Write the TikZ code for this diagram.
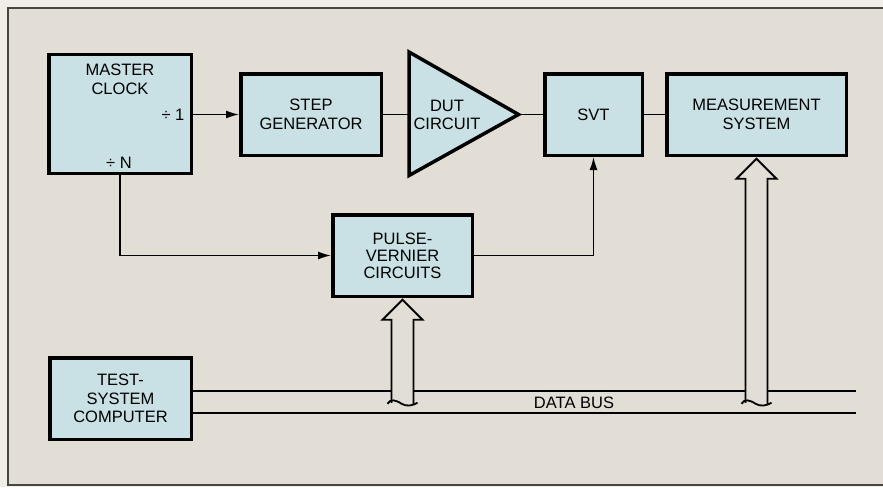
\documentclass[tikz,border=0pt]{standalone}
\usepackage{fontspec}
\setmainfont{Liberation Sans}
\usetikzlibrary{arrows.meta,calc}
\definecolor{outerbg}{RGB}{241,238,231}
\definecolor{innerbg}{RGB}{226,222,213}
\definecolor{boxblue}{RGB}{201,225,228}
\definecolor{framegray}{RGB}{70,70,66}
\tikzset{
  box/.style={draw=black, line width=3.5pt, fill=boxblue, inner sep=0pt, align=center,
    font=\fontsize{16.5}{18.5}\selectfont},
  lbl/.style={inner sep=0pt, align=center, font=\fontsize{16.5}{18.5}\selectfont},
  conn/.style={draw=black, line width=1.5pt},
  arr/.style={-{Latex[length=13pt,width=8pt]}},
  bus/.style={draw=black, line width=1.8pt},
  hollow/.style={draw=black, line width=1.8pt, line join=miter},
}
\begin{document}
\begin{tikzpicture}[x=1pt,y=-1pt]
\useasboundingbox (0,0) rectangle (883,487);
\fill[outerbg] (0,0) rectangle (883,487);
\draw[framegray, fill=innerbg, line width=1.4pt] (8,8) rectangle (900,485);

% boxes
\node[box, minimum width=142.5pt, minimum height=118.5pt] (clock) at (120,114) {};
\node[lbl] (clocklbl) at (120,79.5) {MASTER\\CLOCK};
\node[lbl] (div1) at (173,115) {÷ 1};
\node[lbl] (divN) at (119,163) {÷ N};
\node[box, minimum width=140.5pt, minimum height=81.5pt] (step) at (311,114.5) {STEP\\GENERATOR};
\coordinate (dutin) at (409,114.5);
\coordinate (duttip) at (518.5,114.5);
\draw[line width=3.5pt, fill=boxblue, line join=miter] (409,52) -- (duttip) -- (409,175.5) -- cycle;
\node[lbl] (dutlbl) at (447,115) {DUT\\CIRCUIT};
\node[box, minimum width=97.5pt, minimum height=81.5pt] (svt) at (593.5,114.5) {SVT};
\node[box, minimum width=179.5pt, minimum height=81.5pt] (meas) at (756.5,114.5) {MEASUREMENT\\SYSTEM};
\node[box, minimum width=139.5pt, minimum height=81.5pt,
      font=\fontsize{16.5}{17}\selectfont] (pulse) at (402.5,255.5) {PULSE-\\VERNIER\\CIRCUITS};
\node[box, minimum width=141.5pt, minimum height=81.5pt] (comp) at (120.5,398.5) {TEST-\\SYSTEM\\COMPUTER};

% connectors
\draw[conn, arr] (clock.east |- step.west) -- (step.west);
\draw[conn] (step.east) -- (dutin);
\draw[conn] (duttip) -- (svt.west);
\draw[conn] (svt.east) -- (meas.west);
\draw[conn, arr] (clock.south) |- (pulse.west);
\draw[conn, arr] (pulse.east) -| (svt.south);

% data bus
\coordinate (busA) at (856,391);
\coordinate (busB) at (856,413);
\draw[bus] (comp.east |- busA) -- (busA);
\draw[bus] (comp.east |- busB) -- (busB);
\node[lbl] (buslbl) at (574,403) {DATA BUS};

% hollow arrows
\begin{scope}[shift={($(pulse.south)+(0,1.75)$)}]
  \fill[innerbg] (-11,104) -- (-11,20) -- (-20,20) -- (0,0) -- (20,20) -- (11,20) -- (11,104) -- cycle;
  \draw[hollow] (-11,103) -- (-11,20) -- (-20,20) -- (0,0) -- (20,20) -- (11,20) -- (11,104);
  \draw[hollow] (-15,104) .. controls (-12,99) and (-7,100) .. (-1,104) .. controls (4,107) and (10,106) .. (15,103);
\end{scope}
\begin{scope}[shift={($(meas.south)+(0,1.75)$)}]
  \fill[innerbg] (-11,245) -- (-11,20) -- (-20,20) -- (0,0) -- (20,20) -- (11,20) -- (11,245) -- cycle;
  \draw[hollow] (-11,244) -- (-11,20) -- (-20,20) -- (0,0) -- (20,20) -- (11,20) -- (11,245);
  \draw[hollow] (-15,245) .. controls (-12,240) and (-7,241) .. (-1,245) .. controls (4,248) and (10,247) .. (15,244);
\end{scope}
\end{tikzpicture}
\end{document}
